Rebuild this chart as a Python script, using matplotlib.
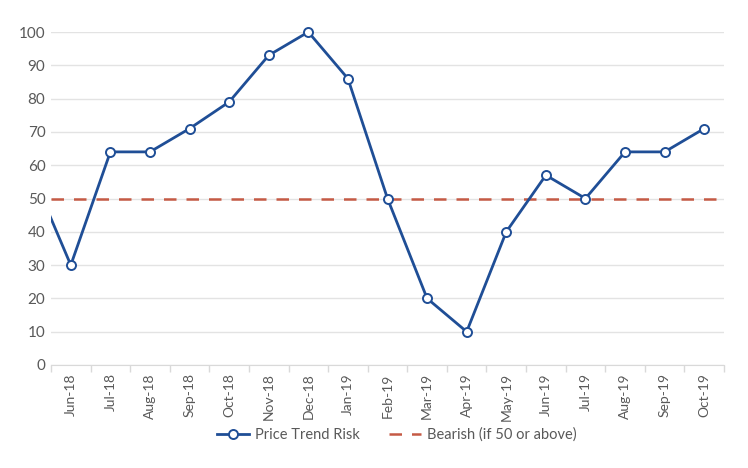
import matplotlib
matplotlib.use("Agg")
import matplotlib.pyplot as plt
import numpy as np

months = ["Jun-18", "Jul-18", "Aug-18", "Sep-18", "Oct-18", "Nov-18", "Dec-18", "Jan-19",
          "Feb-19", "Mar-19", "Apr-19", "May-19", "Jun-19", "Jul-19", "Aug-19", "Sep-19", "Oct-19"]
risk = [30, 64, 64, 71, 79, 93, 100, 86, 50, 20, 10, 40, 57, 50, 64, 64, 71]
prev_value = 58  # value of the month before the window (line enters from the left edge)
bearish = 50

plt.rcParams['font.family'] = ['Lato', 'DejaVu Sans']
text_color = "#595959"
blue = "#1f4e96"
red = "#c55a45"

fig = plt.figure(figsize=(7.48, 4.68), dpi=100)
ax = fig.add_axes([51/748, 1-365/468, (724-51)/748, (365-32)/468])

n = len(months)
x = np.arange(n)
ax.set_xlim(-0.5, n-0.5)
ax.set_ylim(0, 100)

ax.plot(np.concatenate([[-1], x]), [prev_value] + risk, color=blue, lw=2, zorder=3)
ax.plot(x, risk, linestyle='none', marker='o', ms=6.5, mfc='white', mec=blue, mew=1.4,
        zorder=4, clip_on=False)
ax.axhline(bearish, color=red, lw=1.8, dashes=(5, 4), zorder=2)

ax.set_yticks(range(0, 101, 10))
ax.grid(axis='y', color="#e3e3e3", lw=1)
ax.set_axisbelow(True)
ax.set_xticks(x)
ax.set_xticklabels(months, rotation=90)
ax.set_xticks(np.arange(-0.5, n, 1), minor=True)
ax.tick_params(axis='x', which='major', length=0, pad=6, labelsize=10, labelcolor=text_color)
ax.tick_params(axis='x', which='minor', length=5, color="#d9d9d9", width=1)
ax.tick_params(axis='y', length=0, pad=4, labelsize=11, labelcolor=text_color)
for s in ['top', 'right', 'left']:
    ax.spines[s].set_visible(False)
ax.spines['bottom'].set_color("#d9d9d9")

h1, = ax.plot([], [], color=blue, lw=2, marker='o', ms=6.5, mfc='white', mec=blue, mew=1.4,
              label="Price Trend Risk")
h2, = ax.plot([], [], color=red, lw=1.8, dashes=(5, 4), label="Bearish (if 50 or above)")
fig.legend(handles=[h1, h2], loc='center', bbox_to_anchor=(0.53, 1-435/468), ncol=2,
           frameon=False, fontsize=10.5, labelcolor=text_color, handlelength=2.2,
           columnspacing=2.0, handletextpad=0.4)

fig.savefig("out.png", dpi=100)
